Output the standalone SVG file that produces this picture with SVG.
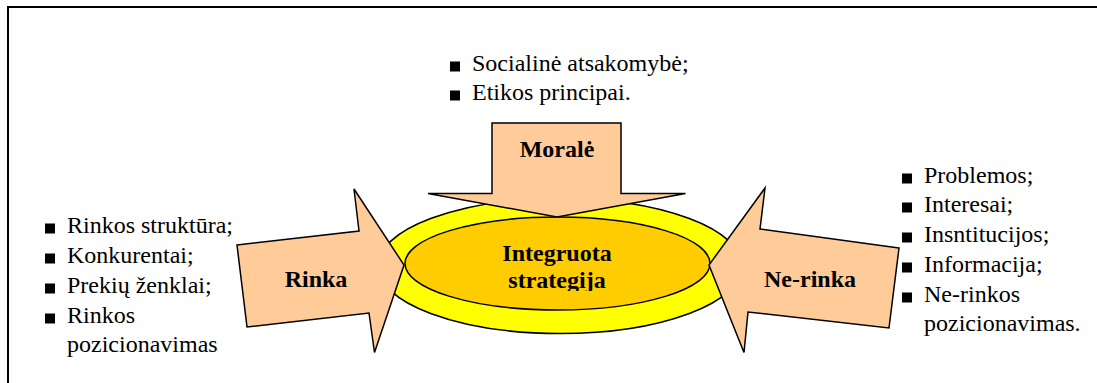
<svg xmlns="http://www.w3.org/2000/svg" width="1097" height="383" viewBox="0 0 1097 383">
  <style>
    .arrow { fill: #FFCC99; stroke: #000; stroke-width: 1.5; stroke-linejoin: miter; }
    .frame { stroke: #000; stroke-width: 2; fill: none; }
  </style>
  <defs>
    <rect id="bullet" x="0" y="-9.5" width="10" height="10" fill="#000"/>
    <clipPath id="coreClip">
      <rect x="400" y="230" width="320" height="61"/>
    </clipPath>
  </defs>

  <rect width="1097" height="383" fill="#fff"/>

  <!-- outer frame (top and left edges) -->
  <path class="frame" d="M8,383 V7 H1097"/>

  <!-- central strategy ellipses -->
  <g id="node-core">
    <ellipse cx="560" cy="266" rx="182" ry="67.5" fill="#FFFF00" stroke="#000" stroke-width="1.5"/>
    <ellipse cx="557.5" cy="263.5" rx="152.5" ry="46.5" fill="#FFCC00" stroke="#000" stroke-width="1.5"/>
    <g clip-path="url(#coreClip)">
      <text x="557" y="261" font-family="Liberation Serif" font-size="24" font-weight="bold" text-anchor="middle">Integruota</text>
      <text x="557" y="288" font-family="Liberation Serif" font-size="24" font-weight="bold" text-anchor="middle">strategija</text>
    </g>
  </g>

  <!-- incoming influence arrows -->
  <g id="connectors">
    <polygon id="arrow-morale" class="arrow" points="492,123 621,123 621,193.5 685.5,193.5 557,217 428,193.5 492,193.5"/>
    <polygon id="arrow-rinka" class="arrow" points="237,245 359,231 354,189 404,265 374.5,352.5 369,313 247,327"/>
    <polygon id="arrow-nerinka" class="arrow" points="899,248 760,229 765,188 709,265 744,352.5 748,312 889,328"/>
  </g>

  <g id="node-morale">
    <text x="557" y="157" font-family="Liberation Serif" font-size="24" font-weight="bold" text-anchor="middle">Moralė</text>
    <use href="#bullet" x="450" y="71"/>
    <text x="472" y="71" font-family="Liberation Serif" font-size="24">Socialinė atsakomybė;</text>
    <use href="#bullet" x="450" y="100"/>
    <text x="472" y="100" font-family="Liberation Serif" font-size="24">Etikos principai.</text>
  </g>

  <g id="node-rinka">
    <text x="316" y="287" font-family="Liberation Serif" font-size="24" font-weight="bold" text-anchor="middle">Rinka</text>
    <use href="#bullet" x="45" y="233"/>
    <text x="67" y="233" font-family="Liberation Serif" font-size="24">Rinkos struktūra;</text>
    <use href="#bullet" x="45" y="263"/>
    <text x="67" y="263" font-family="Liberation Serif" font-size="24">Konkurentai;</text>
    <use href="#bullet" x="45" y="293"/>
    <text x="67" y="293" font-family="Liberation Serif" font-size="24">Prekių ženklai;</text>
    <use href="#bullet" x="45" y="323"/>
    <text x="67" y="323" font-family="Liberation Serif" font-size="24">Rinkos</text>
    <text x="67" y="352" font-family="Liberation Serif" font-size="24">pozicionavimas</text>
  </g>

  <g id="node-nerinka">
    <text x="810" y="287" font-family="Liberation Serif" font-size="24" font-weight="bold" text-anchor="middle">Ne-rinka</text>
    <use href="#bullet" x="902" y="183"/>
    <text x="924" y="183" font-family="Liberation Serif" font-size="24">Problemos;</text>
    <use href="#bullet" x="902" y="212"/>
    <text x="924" y="212" font-family="Liberation Serif" font-size="24">Interesai;</text>
    <use href="#bullet" x="902" y="242"/>
    <text x="924" y="242" font-family="Liberation Serif" font-size="24">Insntitucijos;</text>
    <use href="#bullet" x="902" y="272"/>
    <text x="924" y="272" font-family="Liberation Serif" font-size="24">Informacija;</text>
    <use href="#bullet" x="902" y="302"/>
    <text x="924" y="302" font-family="Liberation Serif" font-size="24">Ne-rinkos</text>
    <text x="924" y="331" font-family="Liberation Serif" font-size="24">pozicionavimas.</text>
  </g>
</svg>
